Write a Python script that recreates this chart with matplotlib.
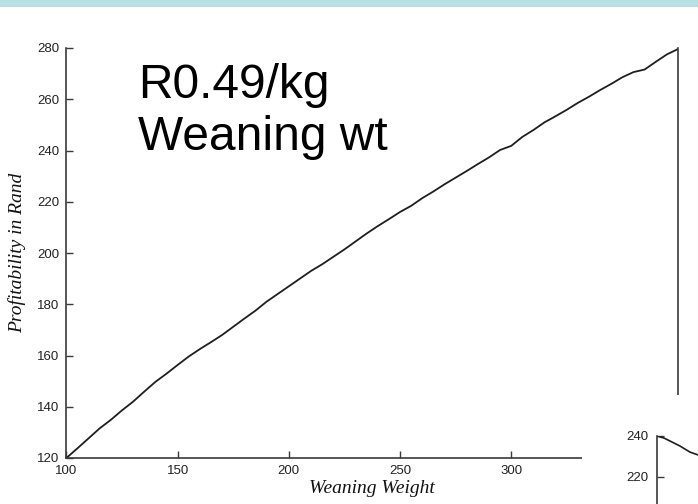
import matplotlib
matplotlib.use("Agg")
import matplotlib.pyplot as plt
from matplotlib.patches import Rectangle

# ---- data ----
weaning_weight = [100, 105, 110, 115, 120, 125, 130, 135, 140, 145, 150, 155, 160, 165, 170,
                  175, 180, 185, 190, 195, 200, 205, 210, 215, 220, 225, 230, 235, 240, 245,
                  250, 255, 260, 265, 270, 275, 280, 285, 290, 295, 300, 305, 310, 315, 320,
                  325, 330, 335, 340, 345, 350, 355, 360, 365, 370, 375]
profit = [120.0, 123.8, 127.7, 131.6, 134.9, 138.6, 142.0, 145.9, 149.7, 152.9, 156.3, 159.6,
          162.5, 165.2, 168.0, 171.2, 174.4, 177.5, 181.0, 184.0, 187.0, 190.0, 193.0, 195.6,
          198.5, 201.4, 204.5, 207.6, 210.5, 213.2, 216.0, 218.4, 221.4, 224.0, 226.8, 229.4,
          232.0, 234.7, 237.3, 240.2, 241.8, 245.3, 248.0, 251.0, 253.4, 255.9, 258.6, 261.0,
          263.6, 266.0, 268.6, 270.6, 271.6, 274.6, 277.5, 279.6]
x_ticks = [100, 150, 200, 250, 300]
y_ticks = [120, 140, 160, 180, 200, 220, 240, 260, 280]

inset_x = [100, 102.5, 104.7, 108.2, 111.8, 114.7, 116.0]
inset_y = [240.0, 239.0, 237.5, 235.1, 232.1, 230.7, 230.0]
inset_ticks = [220, 240]

annotation = "R0.49/kg\nWeaning wt"
xlabel = "Weaning Weight"
ylabel = "Profitability in Rand"

W, H = 698, 504
fig = plt.figure(figsize=(W / 100, H / 100), dpi=100)
fig.patch.set_facecolor("white")

spine_c = "#3a3a3a"
line_c = "#1e1e1e"

# main axes
L, R, B, T = 66.4, 678.0, 458.0, 48.0
ax = fig.add_axes([L / W, 1 - B / H, (R - L) / W, (B - T) / H])
ax.plot(weaning_weight, profit, color=line_c, lw=1.3, solid_joinstyle="round")
ax.set_xticks(x_ticks)
ax.set_yticks(y_ticks)
ax.set_xlim(100, 375)
ax.set_ylim(120, 280)
ax.spines["top"].set_visible(False)
for s in ["left", "bottom", "right"]:
    ax.spines[s].set_color(spine_c)
    ax.spines[s].set_linewidth(1.2)
ax.tick_params(direction="in", length=5, width=1.0, color=spine_c, pad=5,
               labelsize=9.5, labelcolor="#222222")
ax.tick_params(axis="y", right=False)
for lab in ax.get_xticklabels() + ax.get_yticklabels():
    lab.set_fontfamily("Liberation Sans")
ax.set_xlabel(xlabel, fontfamily="Liberation Serif", fontstyle="italic",
              fontsize=14, labelpad=2, color="#111111")
ax.set_ylabel(ylabel, fontfamily="Liberation Serif", fontstyle="italic",
              fontsize=14, labelpad=8, color="#111111")

# annotation text (baseline of the last line)
fig.text(138 / W, 1 - 150 / H, annotation, fontfamily="Liberation Sans",
         fontsize=34.5, va="baseline", ha="left", color="black", linespacing=1.2)

# top band
fig.add_artist(Rectangle((0, 1 - 6.5 / H), 1, 6.5 / H, transform=fig.transFigure,
                         facecolor="#b8dfe3", edgecolor="none", zorder=10))

# overlay of second picture (white patch)
fig.add_artist(Rectangle((582 / W, 0), 1, (H - 395) / H, transform=fig.transFigure,
                         facecolor="white", edgecolor="none", zorder=5))

# partial second chart
iL, iT = 657.0, 436.0
ax2 = fig.add_axes([iL / W, 0, 0.4, (H - iT) / H], zorder=6)
ax2.patch.set_alpha(0)
ax2.plot(inset_x, inset_y, color=line_c, lw=1.2)
ax2.set_yticks(inset_ticks)
ax2.set_xticks([])
ax2.set_xlim(100, 200)
ax2.set_ylim(220 - (H - 476.7) / 40.7 * 20, 240)
for s in ["top", "right", "bottom"]:
    ax2.spines[s].set_visible(False)
ax2.spines["left"].set_color(spine_c)
ax2.spines["left"].set_linewidth(1.2)
ax2.tick_params(axis="y", direction="in", length=5, width=1.0, color=spine_c, pad=6,
                labelsize=9.5, labelcolor="#222222")
for lab in ax2.get_yticklabels():
    lab.set_fontfamily("Liberation Sans")

fig.savefig("out.png", dpi=100)
